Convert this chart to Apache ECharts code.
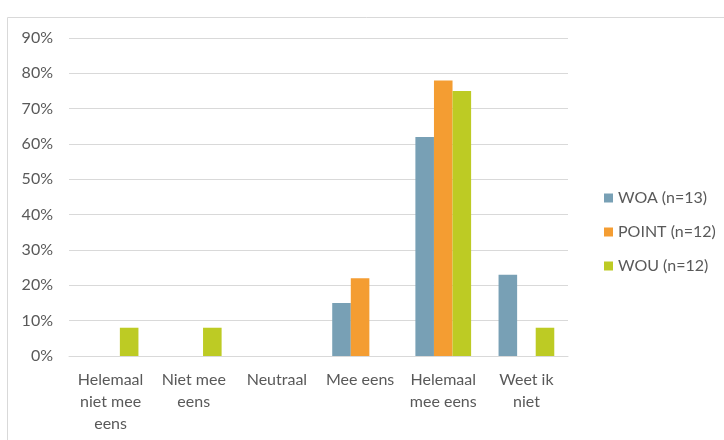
<!DOCTYPE html>
<html><head><meta charset="utf-8">
<script src="https://cdn.jsdelivr.net/npm/echarts@6/dist/echarts.min.js"></script>
<style>html,body{margin:0;padding:0;background:#fff}#c{width:724px;height:440px}</style>
</head><body><div id="c"></div>
<script>
const categories = ["Helemaal\nniet mee\neens", "Niet mee\neens", "Neutraal", "Mee eens", "Helemaal\nmee eens", "Weet ik\nniet"];
const woa = [0, 0, 0, 15, 62, 23];
const point = [0, 0, 0, 22, 78, 0];
const wou = [8, 8, 0, 0, 75, 8];
const seriesNames = ["WOA (n=13)", "POINT (n=12)", "WOU (n=12)"];
const colors = ["#78A0B5", "#F49D32", "#BDCB24"];

const chart = echarts.init(document.getElementById('c'));
const font = "Lato, 'Open Sans', sans-serif";
chart.setOption({
  animation: false,
  color: colors,
  textStyle: { fontFamily: font },
  graphic: [{
    type: 'rect', shape: { x: 7.5, y: 17.5, width: 800, height: 500 },
    style: { fill: 'none', stroke: '#d9d9d9', lineWidth: 1 }
  }],
  grid: { left: 69, right: 156, top: 38, bottom: 84 },
  legend: {
    orient: 'vertical', left: 599, top: 185, icon: 'rect', itemWidth: 9, itemHeight: 9,
    itemGap: 18, textStyle: { color: '#595959', fontSize: 16, fontFamily: font },
    data: seriesNames
  },
  xAxis: {
    type: 'category', data: categories,
    axisLine: { lineStyle: { color: '#d9d9d9' } },
    axisTick: { show: false },
    axisLabel: { color: '#595959', fontSize: 16, lineHeight: 22, margin: 13, interval: 0, fontFamily: font }
  },
  yAxis: {
    type: 'value', min: 0, max: 90, interval: 10,
    axisLabel: { formatter: '{value}%', color: '#595959', fontSize: 16, margin: 16, fontFamily: font },
    splitLine: { lineStyle: { color: '#d9d9d9' } },
    axisLine: { show: false }, axisTick: { show: false }
  },
  series: [
    { name: seriesNames[0], type: 'bar', data: woa, barGap: '0%', barCategoryGap: '33%' },
    { name: seriesNames[1], type: 'bar', data: point, barGap: '0%', barCategoryGap: '33%' },
    { name: seriesNames[2], type: 'bar', data: wou, barGap: '0%', barCategoryGap: '33%' }
  ]
});
</script></body></html>
